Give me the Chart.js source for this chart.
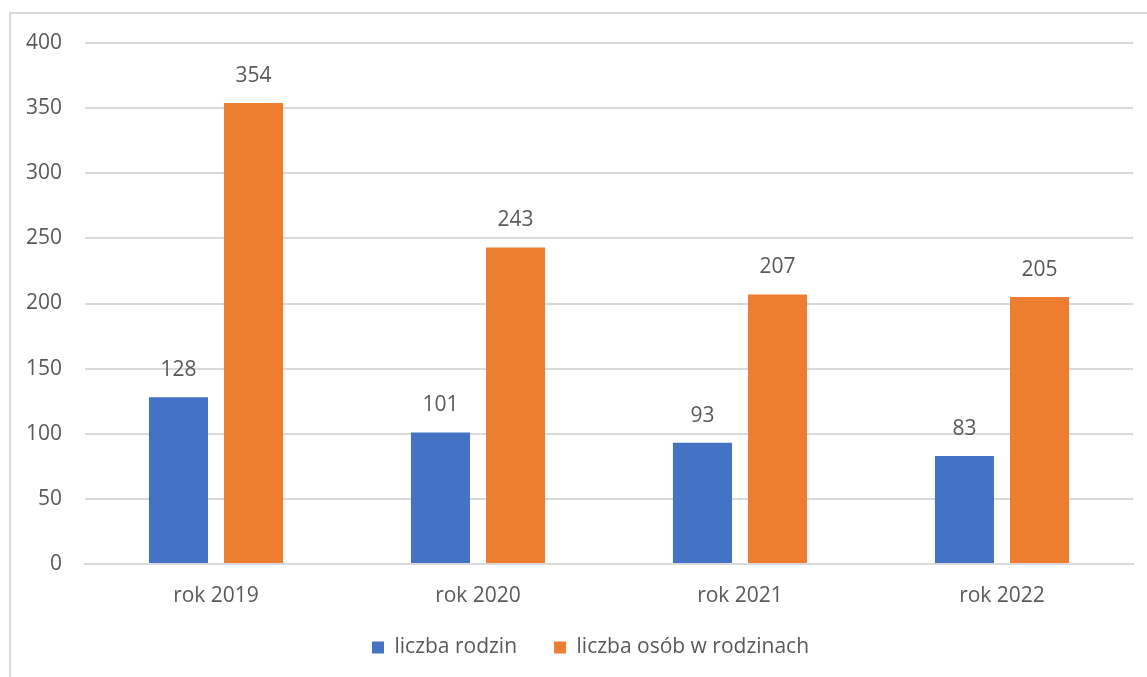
<!DOCTYPE html>
<html>
<head>
<meta charset="utf-8">
<script src="https://cdn.jsdelivr.net/npm/chart.js@4/dist/chart.umd.min.js"></script>
<style>
  html, body { margin: 0; padding: 0; background: #fff; overflow: hidden; }
  #frame { position: absolute; left: 9px; top: 12px; width: 1200px; height: 700px; border: 2px solid #d9d9d9; }
  #wrap { position: absolute; left: 0; top: 0; width: 1147px; height: 677px; }
</style>
</head>
<body>
<div id="frame"></div>
<div id="wrap"><canvas id="chart"></canvas></div>
<script>
const years = ["rok 2019", "rok 2020", "rok 2021", "rok 2022"];
const families = [128, 101, 93, 83];
const persons = [354, 243, 207, 205];
const yTicks = [0, 50, 100, 150, 200, 250, 300, 350, 400];

const FONT = "'Open Sans', sans-serif";
const TEXT = "#595959";
const SIZE = 21;

// values above bars
const valueLabels = {
  id: "valueLabels",
  afterLayout(chart) {
    // let tick labels run past the tight axis boxes
    chart.scales.x.bottom += 30;
    chart.scales.y.left = 0;
  },
  afterDatasetsDraw(chart) {
    const ctx = chart.ctx;
    ctx.save();
    ctx.font = `${SIZE}px ${FONT}`;
    ctx.fillStyle = TEXT;
    ctx.textAlign = "center";
    ctx.textBaseline = "middle";
    chart.data.datasets.forEach((ds, i) => {
      chart.getDatasetMeta(i).data.forEach((bar, j) => {
        ctx.fillText(String(ds.data[j]), bar.x, bar.y - 27);
      });
    });
    ctx.restore();
  },
};

new Chart(document.getElementById("chart"), {
  type: "bar",
  data: {
    labels: years,
    datasets: [
      { label: "liczba rodzin", data: families, backgroundColor: "#4472C4" },
      { label: "liczba osób w rodzinach", data: persons, backgroundColor: "#ED7D31" },
    ],
  },
  options: {
    responsive: true,
    maintainAspectRatio: false,
    animation: false,
    categoryPercentage: 0.573,
    barPercentage: 0.787,
    layout: { padding: { top: 43, right: 14, bottom: 9, left: 48 } },
    plugins: {
      legend: {
        position: "bottom",
        labels: {
          font: { family: FONT, size: SIZE },
          color: TEXT,
          boxWidth: 12,
          boxHeight: 12,
          padding: 37,
        },
      },
      tooltip: { enabled: false },
    },
    scales: {
      x: {
        afterFit: (scale) => { scale.height = 36; },
        grid: { display: false },
        border: { color: "#d9d9d9", width: 2 },
        ticks: { color: TEXT, font: { family: FONT, size: SIZE }, padding: 11 },
      },
      y: {
        min: 0,
        max: 400,
        afterBuildTicks: (scale) => { scale.ticks = yTicks.map((v) => ({ value: v })); },
        afterFit: (scale) => { scale.width = 37; },
        grid: { color: "#d9d9d9", lineWidth: 2, drawTicks: false },
        border: { display: false },
        ticks: { color: TEXT, font: { family: FONT, size: SIZE }, padding: 23 },
      },
    },
  },
  plugins: [valueLabels],
});
</script>
</body>
</html>
